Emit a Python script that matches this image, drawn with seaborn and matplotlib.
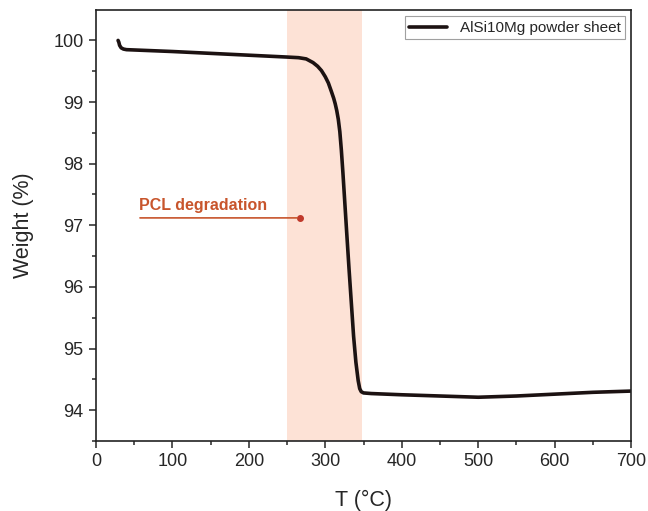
import matplotlib
matplotlib.use("Agg")
import matplotlib.pyplot as plt
import seaborn as sns
import pandas as pd
from matplotlib.ticker import MultipleLocator

# TGA curve
temp = [29, 30, 31, 33, 36, 40, 60, 100, 150, 200, 250, 265, 275, 284, 290, 295,
        300, 304, 308, 311, 313, 315, 317, 319, 321, 323, 325, 328, 331, 334,
        337, 340, 343, 345, 347, 350, 360, 380, 400, 450, 500, 550, 600, 650, 700]
weight = [100.0, 99.97, 99.92, 99.88, 99.86, 99.85, 99.84, 99.82, 99.79, 99.76,
          99.73, 99.72, 99.70, 99.64, 99.58, 99.51, 99.41, 99.31, 99.17, 99.06,
          98.97, 98.86, 98.72, 98.52, 98.22, 97.86, 97.47, 96.88, 96.30, 95.75,
          95.20, 94.78, 94.48, 94.35, 94.30, 94.28, 94.27, 94.26, 94.25, 94.23,
          94.21, 94.23, 94.26, 94.29, 94.31]
label = "AlSi10Mg powder sheet"
band = (250, 348)
note = "PCL degradation"

df = pd.DataFrame({"T": temp, "W": weight, "s": label})

sns.set_style("ticks")
plt.rcParams["font.family"] = ["Liberation Sans", "DejaVu Sans"]

fig, ax = plt.subplots(figsize=(6.48, 5.11), dpi=100)
fig.subplots_adjust(left=0.148, right=0.974, top=0.980, bottom=0.137)

ax.axvspan(band[0], band[1], color="#fde2d6", lw=0, zorder=0)
sns.lineplot(data=df, x="T", y="W", hue="s", palette=["#1c1212"], lw=2.6,
             ax=ax, sort=False)
ax.get_lines()[0].set_solid_joinstyle("round")

ax.set_xlim(0, 700)
ax.set_ylim(93.5, 100.49)
ax.xaxis.set_major_locator(MultipleLocator(100))
ax.xaxis.set_minor_locator(MultipleLocator(50))
ax.yaxis.set_major_locator(MultipleLocator(1))
ax.yaxis.set_minor_locator(MultipleLocator(0.5))
ax.tick_params(which="major", direction="out", length=5, width=1.1, pad=4,
               labelsize=13)
ax.tick_params(which="minor", direction="out", length=3, width=1.1)
for sp in ax.spines.values():
    sp.set_visible(True)
    sp.set_linewidth(1.2)
    sp.set_color("#222222")

ax.set_xlabel("T (°C)", fontsize=15.5, labelpad=14)
ax.set_ylabel("Weight (%)", fontsize=15.5, labelpad=14)

# annotation
ax.annotate("", xy=(267, 97.12), xytext=(54, 97.12),
            arrowprops=dict(arrowstyle="-", color="#c8552c", lw=1.2))
ax.plot([267], [97.12], "o", color="#c0392b", ms=4)
ax.text(56, 97.2, note, color="#c8552c", fontsize=11.5, fontweight="bold",
        ha="left", va="bottom")

leg = ax.legend(loc="upper right", fontsize=11, frameon=True, fancybox=False,
                handlelength=2.5, borderpad=0.3, borderaxespad=0.4)
leg.get_frame().set_edgecolor("#888888")
leg.get_frame().set_linewidth(0.8)

fig.savefig("out.png", dpi=100)
